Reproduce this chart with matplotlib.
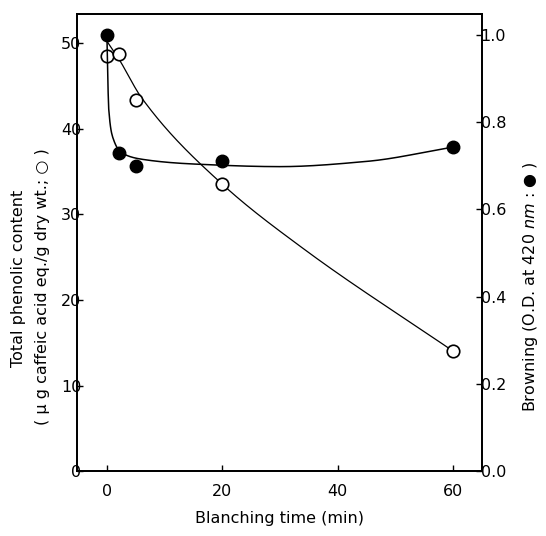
import numpy as np
import matplotlib
matplotlib.use("Agg")
import matplotlib.pyplot as plt

# measured data
time_open = [0, 2, 5, 20, 60]
phenolic = [48.5, 48.7, 43.3, 33.5, 14.0]
time_filled = [0, 2, 5, 20, 60]
browning = [1.00, 0.73, 0.70, 0.71, 0.743]

# hand-drawn smooth curves (anchor points of the fitted lines)
fit_t_open = [0, 2, 6, 20, 34, 60]
fit_open = [50.2, 48.2, 43.6, 33.5, 26.0, 14.0]
fit_t_filled = [0, 0.3, 1.0, 2.5, 6, 15, 30, 45, 60]
fit_filled = [0.99, 0.83, 0.765, 0.73, 0.715, 0.704, 0.698, 0.710, 0.743]

xticks = [0, 20, 40, 60]
lyticks = [0, 10, 20, 30, 40, 50]
ryticks = [0.0, 0.2, 0.4, 0.6, 0.8, 1.0]


def pchip(x, y, xn):
    x = np.asarray(x, float); y = np.asarray(y, float)
    h = np.diff(x); d = np.diff(y) / h
    n = len(x)
    m = np.zeros(n)
    for k in range(1, n - 1):
        if d[k - 1] * d[k] > 0:
            w1 = 2 * h[k] + h[k - 1]; w2 = h[k] + 2 * h[k - 1]
            m[k] = (w1 + w2) / (w1 / d[k - 1] + w2 / d[k])
    m[0] = d[0]; m[-1] = d[-1]
    idx = np.clip(np.searchsorted(x, xn) - 1, 0, n - 2)
    t = (xn - x[idx]) / h[idx]
    h00 = 2 * t**3 - 3 * t**2 + 1; h10 = t**3 - 2 * t**2 + t
    h01 = -2 * t**3 + 3 * t**2; h11 = t**3 - t**2
    return h00 * y[idx] + h10 * h[idx] * m[idx] + h01 * y[idx + 1] + h11 * h[idx] * m[idx + 1]


plt.rcParams['font.family'] = ['DejaVu Sans']
fig = plt.figure(figsize=(5.46, 5.36), dpi=100)
ax = fig.add_axes([0.141, 0.121, 0.742, 0.853])
ax2 = ax.twinx()

xs = np.linspace(fit_t_open[0], fit_t_open[-1], 400)
ax.plot(xs, pchip(fit_t_open, fit_open, xs), color='black', lw=0.9, zorder=2)
xf = np.linspace(fit_t_filled[0], fit_t_filled[-1], 600)
ax2.plot(xf, pchip(fit_t_filled, fit_filled, xf), color='black', lw=1.1, zorder=2)

ax.plot(time_open, phenolic, 'o', ms=9, mfc='white', mec='black', mew=1.2, zorder=4)
ax2.plot(time_filled, browning, 'o', ms=9, mfc='black', mec='black', zorder=4)

ax.set_xlim(-5.2, 65.0)
ax.set_ylim(0, 53.4)
ax2.set_ylim(0, 1.048)
ax.set_xticks(xticks)
ax.set_yticks(lyticks)
ax2.set_yticks(ryticks)
ax2.set_yticklabels([f"{v:.1f}" for v in ryticks])

for a in (ax, ax2):
    a.tick_params(direction='in', length=4, width=1, labelsize=11.5, pad=3)
    for s in a.spines.values():
        s.set_linewidth(1.3)
ax.tick_params(axis='y', pad=-3)
ax2.tick_params(axis='y', pad=-1)
ax.tick_params(axis='x', pad=9)

ax.set_xlabel("Blanching time (min)", fontsize=11.5, labelpad=9)
fig.text(0.033, 0.48, "Total phenolic content", rotation=90, fontsize=11.5,
         ha='center', va='center')
fig.text(0.077, 0.465, "( μ g caffeic acid eq./g dry wt.; ○ )", rotation=90,
         fontsize=11.5, ha='center', va='center')
fig.text(0.972, 0.465, "Browning (O.D. at 420 $\\it{nm}$ : ● )", rotation=90,
         fontsize=11.5, ha='center', va='center')

fig.savefig("out.png", dpi=100)
